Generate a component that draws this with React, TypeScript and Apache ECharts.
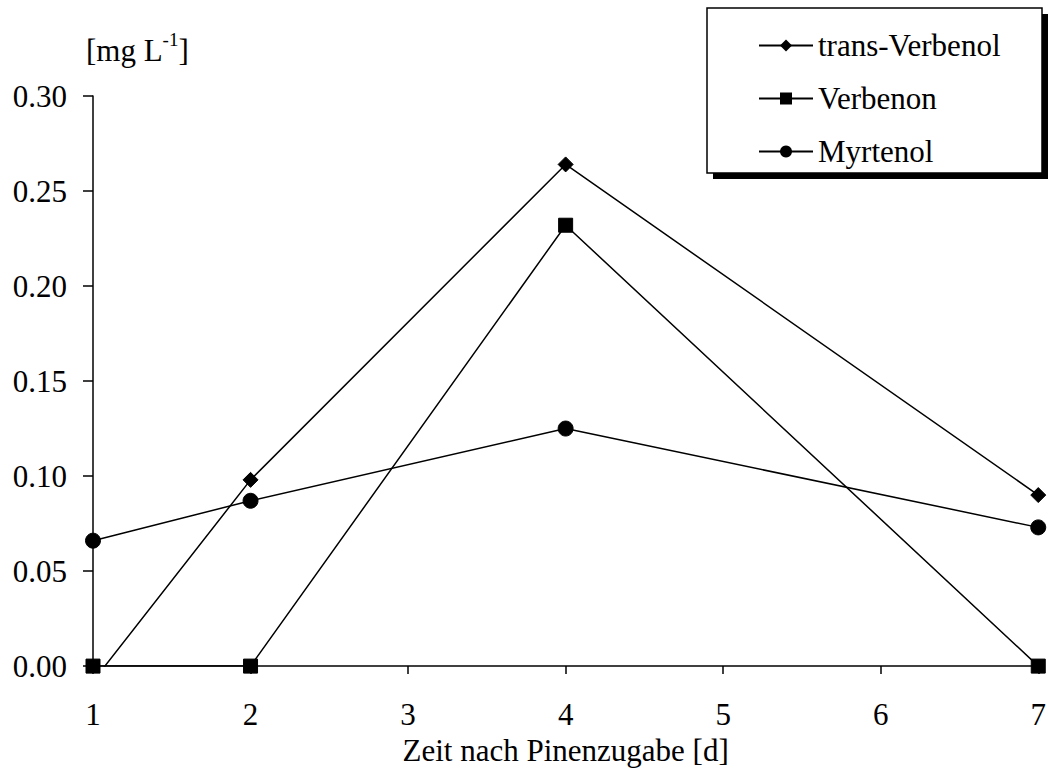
import React, { useEffect, useRef } from "react";
import * as echarts from "echarts";

const days = [1, 2, 4, 7];
const transVerbenol = [-0.008, 0.098, 0.264, 0.090];
const verbenon = [0.0, 0.0, 0.232, 0.0];
const myrtenol = [0.066, 0.087, 0.125, 0.073];
const seriesNames = ["trans-Verbenol", "Verbenon", "Myrtenol"];
const xTicks = [1, 2, 3, 4, 5, 6, 7];
const yTicks = [0, 0.05, 0.1, 0.15, 0.2, 0.25, 0.3];

const FONT = "Liberation Serif";
const FS = 31;

export default function App() {
  const ref = useRef<HTMLDivElement>(null);
  useEffect(() => {
    if (!ref.current) return;
    const chart = echarts.init(ref.current, null, { renderer: "svg" });
    const pair = (vals: number[]) => days.map((d, i) => [d, vals[i]]);
    const lineStyle = { color: "#000", width: 1.5 };
    const mk = (name: string, vals: number[], symbol: string, size: number) => ({
      name,
      type: "line",
      data: pair(vals),
      symbol,
      symbolSize: size,
      showAllSymbol: true,
      clip: true,
      lineStyle,
      itemStyle: { color: "#000", borderColor: "#000" },
      emphasis: { disabled: true },
    });
    chart.setOption({
      animation: false,
      backgroundColor: "#fff",
      textStyle: { fontFamily: FONT },
      grid: { left: 93, right: 8, top: 96, bottom: 103, containLabel: false },
      xAxis: {
        type: "value",
        min: xTicks[0],
        max: xTicks[xTicks.length - 1],
        interval: 1,
        name: "Zeit nach Pinenzugabe [d]",
        nameLocation: "middle",
        nameGap: 66,
        nameTextStyle: { fontFamily: FONT, fontSize: FS, color: "#000", lineHeight: FS },
        axisLine: { show: true, onZero: false, lineStyle: { color: "#000", width: 1.5 } },
        axisTick: { show: true, length: 8, lineStyle: { color: "#000", width: 1.5 } },
        axisLabel: { fontFamily: FONT, fontSize: FS, color: "#000", margin: 33, lineHeight: FS },
        splitLine: { show: false },
      },
      yAxis: {
        type: "value",
        min: yTicks[0],
        max: yTicks[yTicks.length - 1],
        interval: 0.05,
        axisLine: { show: true, lineStyle: { color: "#000", width: 1.5 } },
        axisTick: { show: true, length: 10, lineStyle: { color: "#000", width: 1.5 } },
        axisLabel: {
          fontFamily: FONT,
          fontSize: FS,
          color: "#000",
          margin: 26,
          formatter: (v: number) => v.toFixed(2),
        },
        splitLine: { show: false },
      },
      legend: {
        show: true,
        orient: "vertical",
        left: 753,
        top: 25,
        itemWidth: 54,
        itemHeight: 15,
        itemGap: 22,
        z: 10,
        data: seriesNames,
        textStyle: { fontFamily: FONT, fontSize: FS, color: "#000", lineHeight: FS },
        selectedMode: false,
      },
      graphic: [
        {
          type: "rect",
          z: 0,
          shape: { x: 713, y: 14, width: 335, height: 165 },
          style: { fill: "#000" },
        },
        {
          type: "rect",
          z: 1,
          shape: { x: 707, y: 8, width: 335, height: 165 },
          style: { fill: "#fff", stroke: "#000", lineWidth: 1.5 },
        },
        {
          type: "text",
          left: 86,
          top: 30,
          style: {
            text: "{a|[mg L}{b|-1}{a|]}",
            rich: {
              a: { fontFamily: FONT, fontSize: FS, fill: "#000", verticalAlign: "bottom", lineHeight: 36 },
              b: { fontFamily: FONT, fontSize: 19, fill: "#000", verticalAlign: "top", lineHeight: 36, padding: [0, 0, 14, 0] },
            },
          },
        },
      ],
      series: [
        mk(seriesNames[0], transVerbenol, "diamond", 15),
        mk(seriesNames[1], verbenon, "rect", 14),
        mk(seriesNames[2], myrtenol, "circle", 15),
      ],
    });
    return () => chart.dispose();
  }, []);
  return <div ref={ref} style={{ width: 1049, height: 771, position: "absolute", left: 0, top: 0 }} />;
}
